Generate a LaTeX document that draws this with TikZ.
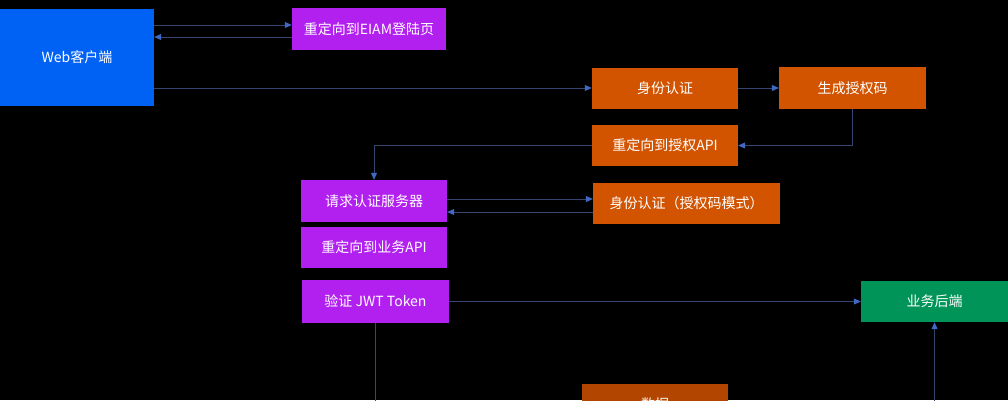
\documentclass[tikz,border=0pt]{standalone}
\usepackage{fontspec}
\setmainfont{Noto Sans CJK SC}
\usetikzlibrary{arrows.meta}
\definecolor{webblue}{RGB}{0,98,245}
\definecolor{eiampurple}{RGB}{178,32,240}
\definecolor{authorange}{RGB}{210,84,0}
\definecolor{dataorange}{RGB}{178,70,0}
\definecolor{bizgreen}{RGB}{0,148,88}
\definecolor{linegray}{RGB}{52,70,110}
\definecolor{tipblue}{RGB}{62,104,196}

\begin{document}
\begin{tikzpicture}[x=1pt,y=-1pt,
		box/.style={fill=#1,text=white,inner sep=0pt,font=\fontsize{14}{16}\selectfont},
		arr/.style={draw=linegray,line width=0.8pt,-{Triangle[length=7pt,width=6pt,color=tipblue]}}]
		\useasboundingbox (0,0) rectangle (1008,400);
		\fill[black] (0,0) rectangle (1008,400);
		\clip (0,0) rectangle (1008,400);
		\node[box=webblue,minimum width=154pt,minimum height=97pt] (web) at (77,57.5) {Web客户端};
		\node[box=eiampurple,minimum width=154pt,minimum height=42pt] (eiam) at (369,29) {重定向到EIAM登陆页};
		\node[box=authorange,minimum width=146pt,minimum height=41pt] (auth) at (665,88) {身份认证};
		\node[box=authorange,minimum width=147pt,minimum height=42pt] (code) at (852.5,88) {生成授权码};
		\node[box=authorange,minimum width=146pt,minimum height=41pt] (redir) at (665,145.5) {重定向到授权API};
		\node[box=eiampurple,minimum width=146pt,minimum height=42pt] (req) at (374,201) {请求认证服务器};
		\node[box=authorange,minimum width=187pt,minimum height=41pt] (authmode) at (686.5,203.5) {身份认证（授权码模式）};
		\node[box=eiampurple,minimum width=146pt,minimum height=41pt] (bizapi) at (374,247.5) {重定向到业务API};
		\node[box=eiampurple,minimum width=147pt,minimum height=43pt] (jwt) at (375.5,301.5) {验证 JWT Token};
		\node[box=bizgreen,minimum width=147pt,minimum height=41pt] (backend) at (934.5,301.5) {业务后端};
		\node[box=dataorange,minimum width=146pt,minimum height=41pt] (data) at (655,404.5) {数据};
		\draw[arr] ([yshift=4pt]web.east |- eiam.west) -- ([yshift=4pt]eiam.west);
		\draw[arr] ([yshift=-8pt]eiam.west) -- ([yshift=-8pt]web.east |- eiam.west);
		\draw[arr] (web.east |- auth.west) -- (auth.west);
		\draw[arr] (auth.east) -- (code.west);
		\draw[arr] (code.south) |- (redir.east);
		\draw[arr] (redir.west) -| (req.north);
		\draw[arr] ([yshift=2pt]req.east) -- ([yshift=2pt]req.east -| authmode.west);
		\draw[arr] ([yshift=-11pt]req.east -| authmode.west) -- ([yshift=-11pt]req.east);
		\draw[arr] (jwt.east) -- (backend.west);
		\draw[arr] (jwt.south) |- (data.west);
		\draw[arr] (data.east) -| (backend.south);
	\end{tikzpicture}
\end{document}
